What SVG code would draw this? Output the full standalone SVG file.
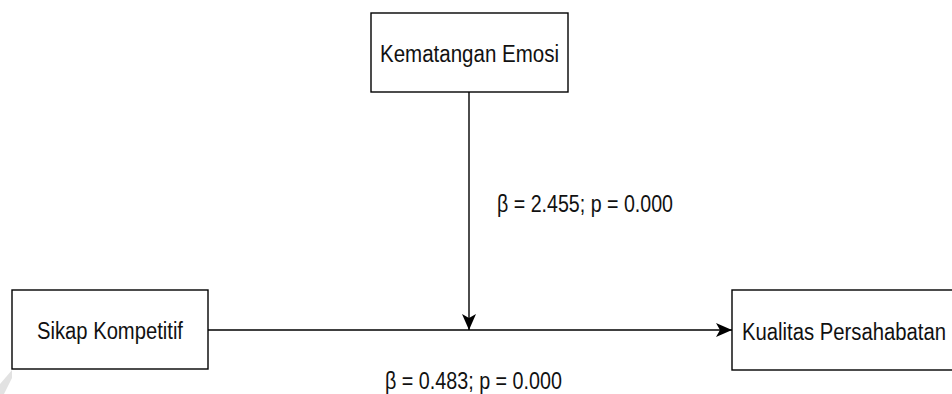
<svg xmlns="http://www.w3.org/2000/svg" width="952" height="394" viewBox="0 0 952 394">
<defs>
<style>
.box{fill:#ffffff;stroke:#000000;stroke-width:1.4}
.edge{fill:none;stroke:#000000;stroke-width:1.4}
.t{font-family:"Liberation Sans",Arial,sans-serif;font-size:23px;fill:#111111}
</style>
<marker id="arr" viewBox="0 0 16 14" refX="16" refY="7" markerWidth="16" markerHeight="14" markerUnits="userSpaceOnUse" orient="auto">
<path d="M16,7 L0,0 L4,7 L0,14 Z" fill="#000000"/>
</marker>
</defs>
<rect width="952" height="394" fill="#ffffff"/>
<polygon points="0,384 12,370 12,378 4,394 0,394" fill="#e2e2e2"/>
<g id="connectors">
<path class="edge" d="M208,330 L732,330" marker-end="url(#arr)"/>
<path class="edge" d="M469,92 L469,330" marker-end="url(#arr)"/>
<text class="t" x="497" y="212" textLength="176" lengthAdjust="spacingAndGlyphs">β = 2.455; p = 0.000</text>
<text class="t" x="385" y="389" textLength="177" lengthAdjust="spacingAndGlyphs">β = 0.483; p = 0.000</text>
</g>
<g id="node-kematangan">
<rect class="box" x="371" y="13" width="197" height="79"/>
<text class="t" x="380" y="62" textLength="179" lengthAdjust="spacingAndGlyphs">Kematangan Emosi</text>
</g>
<g id="node-sikap">
<rect class="box" x="12" y="290" width="196" height="79"/>
<text class="t" x="37" y="339" textLength="146" lengthAdjust="spacingAndGlyphs">Sikap Kompetitif</text>
</g>
<g id="node-kualitas">
<rect class="box" x="732" y="290" width="230" height="80"/>
<text class="t" x="742" y="340" textLength="204" lengthAdjust="spacingAndGlyphs">Kualitas Persahabatan</text>
</g>
</svg>
